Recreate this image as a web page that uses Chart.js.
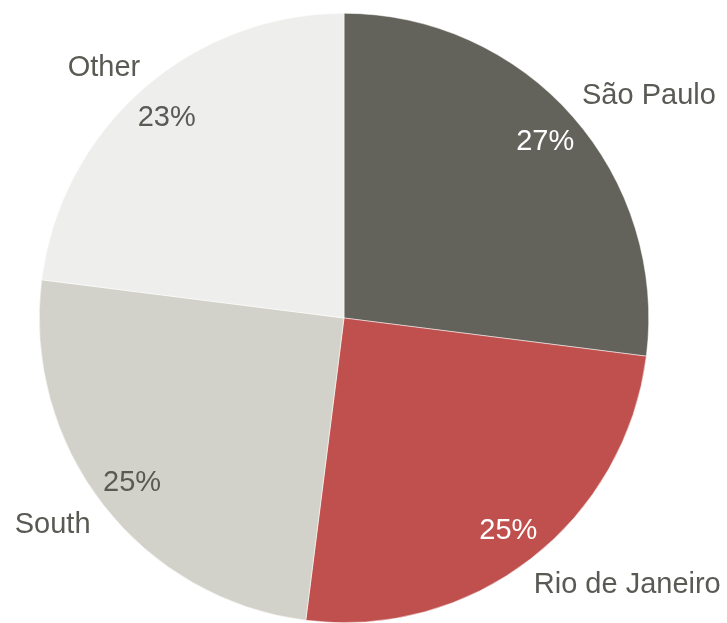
<!DOCTYPE html>
<html>
<head>
<meta charset="utf-8">
<script src="https://cdn.jsdelivr.net/npm/chart.js@4/dist/chart.umd.min.js"></script>
<style>
  html, body { margin: 0; padding: 0; background: #ffffff; }
  #wrap { width: 727px; height: 623px; }
</style>
</head>
<body>
<div id="wrap"><canvas id="regionChart" width="727" height="623"></canvas></div>
<script>
// Share by region (%)
const regions = ['São Paulo', 'Rio de Janeiro', 'South', 'Other'];
const shares = [27, 25, 25, 23];
const sliceColors = ['#64635b', '#c0504d', '#d3d2ca', '#eeeeec'];
const pctColors = ['#ffffff', '#ffffff', '#5a5a55', '#5a5a55'];

// Label placement: radius factor and angle shift (degrees) from slice middle
const pctRadius = 0.88;
const nameRadius = [1.24, 1.275, 1.17, 1.14];
const nameShift = [5.2, -9.0, 2.6, -2.3];

const labelFont = '29px "Liberation Sans", Arial, sans-serif';

// Draws the percentage inside each slice and the region name outside it
const sliceLabels = {
    id: 'sliceLabels',
    afterDatasetsDraw(chart) {
        const ctx = chart.ctx;
        const meta = chart.getDatasetMeta(0);
        const total = shares.reduce((a, b) => a + b, 0);
        ctx.save();
        ctx.font = labelFont;
        ctx.textAlign = 'center';
        ctx.textBaseline = 'middle';
        meta.data.forEach((arc, i) => {
            const p = arc.getProps(['x', 'y', 'startAngle', 'endAngle', 'outerRadius'], true);
            const mid = (p.startAngle + p.endAngle) / 2;
            const r = p.outerRadius;

            const pct = Math.round(shares[i] / total * 100) + '%';
            ctx.fillStyle = pctColors[i];
            ctx.fillText(pct, p.x + Math.cos(mid) * r * pctRadius, p.y + 1 + Math.sin(mid) * r * pctRadius);

            const a = mid + nameShift[i] * Math.PI / 180;
            ctx.fillStyle = '#5a5a55';
            ctx.fillText(regions[i], p.x + Math.cos(a) * r * nameRadius[i], p.y + 1 + Math.sin(a) * r * nameRadius[i]);
        });
        ctx.restore();
    }
};

const chart = new Chart(document.getElementById('regionChart'), {
    type: 'pie',
    data: {
        labels: regions,
        datasets: [{
            data: shares,
            backgroundColor: sliceColors,
            borderColor: '#ffffff',
            borderWidth: 0.5
        }]
    },
    options: {
        responsive: false,
        animation: false,
        layout: { padding: { top: 13, bottom: 0, left: 0, right: 39 } },
        plugins: {
            legend: { display: false },
            tooltip: { enabled: false }
        }
    },
    plugins: [sliceLabels]
});
</script>
</body>
</html>
